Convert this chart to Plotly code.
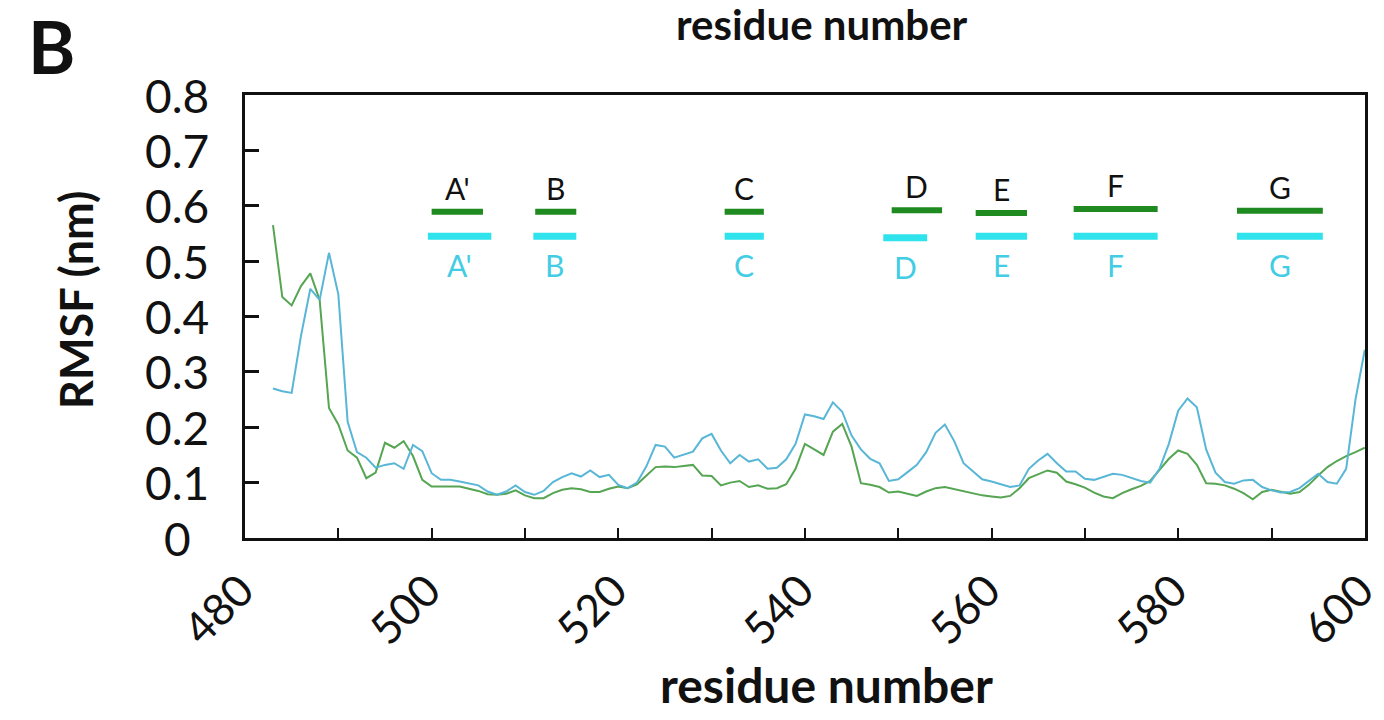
import plotly.graph_objects as go

# RMSF per residue for the two simulations
residues = list(range(483, 601))

rmsf_green = [
    0.565, 0.435, 0.420, 0.455, 0.478, 0.430, 0.235, 0.205, 0.158, 0.145,
    0.108, 0.118, 0.172, 0.163, 0.175, 0.148, 0.105, 0.093, 0.093, 0.093,
    0.093, 0.089, 0.085, 0.079, 0.078, 0.080, 0.086, 0.077, 0.072, 0.072,
    0.081, 0.087, 0.090, 0.088, 0.083, 0.083, 0.089, 0.093, 0.090, 0.097,
    0.112, 0.128, 0.129, 0.128, 0.130, 0.132, 0.113, 0.112, 0.095, 0.100,
    0.103, 0.092, 0.095, 0.089, 0.090, 0.097, 0.125, 0.170, 0.160, 0.150,
    0.192, 0.206, 0.165, 0.099, 0.096, 0.092, 0.082, 0.084, 0.080, 0.076,
    0.084, 0.090, 0.092, 0.088, 0.085, 0.081, 0.077, 0.075, 0.073, 0.076,
    0.090, 0.108, 0.115, 0.122, 0.118, 0.102, 0.097, 0.091, 0.082, 0.075,
    0.072, 0.081, 0.088, 0.094, 0.103, 0.123, 0.143, 0.158, 0.152, 0.132,
    0.099, 0.098, 0.095, 0.089, 0.081, 0.070, 0.083, 0.087, 0.083, 0.080,
    0.083, 0.096, 0.113, 0.128, 0.139, 0.148, 0.155, 0.163,
]

rmsf_cyan = [
    0.270, 0.265, 0.262, 0.365, 0.450, 0.430, 0.515, 0.440, 0.210, 0.155,
    0.145, 0.127, 0.132, 0.135, 0.125, 0.168, 0.157, 0.117, 0.105, 0.105,
    0.102, 0.099, 0.095, 0.084, 0.078, 0.084, 0.095, 0.083, 0.078, 0.085,
    0.101, 0.110, 0.117, 0.111, 0.122, 0.110, 0.114, 0.096, 0.090, 0.100,
    0.129, 0.168, 0.165, 0.145, 0.150, 0.156, 0.180, 0.188, 0.158, 0.135,
    0.150, 0.138, 0.142, 0.125, 0.127, 0.142, 0.170, 0.223, 0.220, 0.215,
    0.245, 0.228, 0.185, 0.160, 0.143, 0.135, 0.103, 0.106, 0.119, 0.132,
    0.155, 0.190, 0.205, 0.175, 0.135, 0.120, 0.106, 0.102, 0.097, 0.092,
    0.095, 0.125, 0.140, 0.152, 0.135, 0.120, 0.120, 0.107, 0.105, 0.111,
    0.116, 0.114, 0.108, 0.103, 0.100, 0.125, 0.170, 0.230, 0.252, 0.236,
    0.160, 0.118, 0.101, 0.098, 0.104, 0.105, 0.092, 0.086, 0.082, 0.083,
    0.090, 0.103, 0.116, 0.101, 0.098, 0.125, 0.250, 0.340,
]

# Secondary-structure segments (start/end residue and plotted level)
segments = ["A'", "B", "C", "D", "E", "F", "G"]
green_start = [500.0, 511.1, 531.4, 549.3, 558.3, 568.8, 586.3]
green_end = [505.5, 515.5, 535.6, 554.7, 563.8, 577.8, 595.5]
green_level = [0.589, 0.589, 0.589, 0.592, 0.587, 0.594, 0.591]
cyan_start = [499.6, 510.9, 531.4, 548.4, 558.3, 568.8, 586.3]
cyan_end = [506.4, 515.5, 535.6, 553.1, 563.8, 577.8, 595.5]
cyan_level = [0.545, 0.545, 0.545, 0.542, 0.545, 0.545, 0.545]

x_ticks = list(range(480, 601, 20))
x_minor = list(range(490, 600, 20))
y_ticks = [0, 0.1, 0.2, 0.3, 0.4, 0.5, 0.6, 0.7, 0.8]

FONT = "Lato"
INK = "#111111"
LINE_GREEN = "#55a553"
LINE_CYAN = "#58b6d6"
BAR_GREEN = "#1f8a1f"
BAR_CYAN = "#2fe3ec"
LABEL_CYAN = "#42cde5"

W, H = 1384, 720
L, R, T, B = 245, 19, 95, 182
pw, ph = W - L - R, H - T - B


def px_x(px):
    """page pixel column -> paper x"""
    return (px - L) / pw


def px_y(py):
    """page pixel row -> paper y"""
    return (H - B - py) / ph


fig = go.Figure()

fig.add_trace(go.Scatter(x=residues, y=rmsf_green, mode="lines",
                         line=dict(color=LINE_GREEN, width=2), showlegend=False))
fig.add_trace(go.Scatter(x=residues, y=rmsf_cyan, mode="lines",
                         line=dict(color=LINE_CYAN, width=2), showlegend=False))


def bar_path(starts, ends, levels):
    xs, ys = [], []
    for s, e, lv in zip(starts, ends, levels):
        xs += [s, e, None]
        ys += [lv, lv, None]
    return xs, ys


gx, gy = bar_path(green_start, green_end, green_level)
cx, cy = bar_path(cyan_start, cyan_end, cyan_level)
fig.add_trace(go.Scatter(x=gx, y=gy, mode="lines",
                         line=dict(color=BAR_GREEN, width=6), showlegend=False))
fig.add_trace(go.Scatter(x=cx, y=cy, mode="lines",
                         line=dict(color=BAR_CYAN, width=7), showlegend=False))

annotations = []
for name, s, e, lv in zip(segments, green_start, green_end, green_level):
    annotations.append(dict(x=(s + e) / 2, y=lv, xref="x", yref="y", text=name,
                            showarrow=False, yshift=24,
                            font=dict(family=FONT, size=30, color=INK)))
for name, s, e, lv in zip(segments, cyan_start, cyan_end, cyan_level):
    annotations.append(dict(x=(s + e) / 2, y=lv, xref="x", yref="y", text=name,
                            showarrow=False, yshift=-29,
                            font=dict(family=FONT, size=30, color=LABEL_CYAN)))

# y tick labels, centred in a column left of the axis
for v in y_ticks:
    annotations.append(dict(x=px_x(177), y=v, xref="paper", yref="y", text=f"{v:g}",
                            showarrow=False, xanchor="center", yanchor="middle",
                            borderpad=0,
                            font=dict(family=FONT, size=46, color=INK)))

# panel letter and axis titles
annotations += [
    dict(x=px_x(51), y=px_y(46), text="<b>B</b>",
         font=dict(family=FONT, size=72, color=INK)),
    dict(x=px_x(826), y=px_y(684), text="<b>residue number</b>",
         font=dict(family=FONT, size=48, color=INK)),
    dict(x=px_x(822), y=px_y(24), text="<b>residue number</b>",
         font=dict(family=FONT, size=42, color=INK)),
    dict(x=px_x(76), y=px_y(300), text="<b>RMSF (nm)</b>", textangle=-90,
         font=dict(family=FONT, size=45, color=INK)),
]
for a in annotations[-4:]:
    a.update(xref="paper", yref="paper", showarrow=False,
             xanchor="center", yanchor="middle", borderpad=0)

fig.update_layout(
    width=W, height=H,
    margin=dict(l=L, r=R, t=T, b=B, autoexpand=False),
    paper_bgcolor="white", plot_bgcolor="white",
    font=dict(family=FONT, color=INK),
    annotations=annotations,
    showlegend=False,
)

fig.update_xaxes(
    range=[480, 600.02], tickvals=x_ticks, ticktext=[str(v) for v in x_ticks],
    tickangle=-45, ticks="inside", ticklen=10, tickwidth=2, tickcolor=INK,
    minor=dict(tickvals=x_minor, ticks="inside", ticklen=10,
               tickwidth=2, tickcolor=INK),
    showline=True, linecolor=INK, linewidth=3, mirror=True,
    showgrid=False, zeroline=False, ticklabelstandoff=6, ticklabelshift=-4,
    ticklabeloverflow="allow", automargin=False,
    tickfont=dict(family=FONT, size=44, color=INK),
)
fig.update_yaxes(
    range=[0, 0.8], tickvals=y_ticks, showticklabels=False,
    ticks="inside", ticklen=14, tickwidth=3, tickcolor=INK,
    showline=True, linecolor=INK, linewidth=3, mirror=True,
    showgrid=False, zeroline=False, automargin=False,
)

fig.write_html("out.html")
